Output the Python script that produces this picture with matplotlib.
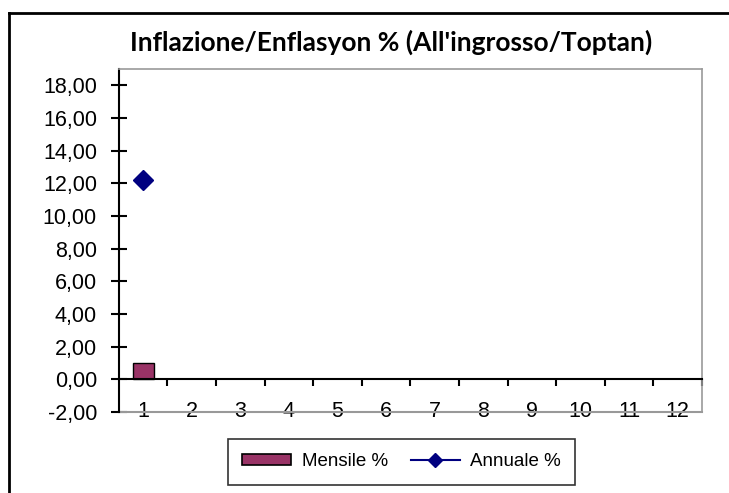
import numpy as np
import matplotlib.pyplot as plt
from matplotlib.patches import Rectangle
from matplotlib.lines import Line2D

plt.rcParams["font.family"] = ["Liberation Sans", "DejaVu Sans"]

months = list(range(1, 13))
mensile = [1.0] + [np.nan] * 11   # only January reported
annuale = [12.2] + [np.nan] * 11
y_ticks = list(range(-2, 20, 2))

bar_color = "#993366"
line_color = "#000080"

fig = plt.figure(figsize=(7.29, 4.93), dpi=100)
ax = fig.add_axes([0.163, 0.164, 0.8, 0.696])

# chart frame: only the left and top edges show in the crop
fig.add_artist(Line2D([0.0123, 0.0123], [0, 0.974], color="black", linewidth=2, transform=fig.transFigure))
fig.add_artist(Line2D([0.0123, 1], [0.974, 0.974], color="black", linewidth=2, transform=fig.transFigure))

ax.bar(months, mensile, width=0.43, color=bar_color, edgecolor="black", linewidth=1)
ax.plot(months, annuale, color=line_color, marker="D", markersize=10, linewidth=1.5)

ax.set_xlim(0.5, 12.5)
ax.set_ylim(-2, 19)
ax.set_yticks(y_ticks)
ax.yaxis.set_major_formatter(plt.FuncFormatter(lambda v, p: ("%.2f" % v).replace(".", ",")))
ax.tick_params(axis="y", direction="inout", length=11.5, width=1.5, labelsize=15.5, pad=10)

# x axis line sits on zero, labels drop below it
ax.spines["bottom"].set_position(("data", 0))
ax.spines["bottom"].set_linewidth(1.5)
ax.set_xticks(months)
ax.set_xticks([m + 0.5 for m in months], minor=True)
ax.tick_params(axis="x", which="major", length=0, labelsize=15.5, pad=15.5)
ax.tick_params(axis="x", which="minor", direction="out", length=5, width=1.5)

ax.spines["left"].set_linewidth(1.5)
for side in ["top", "right"]:
    ax.spines[side].set_color("#999999")
    ax.spines[side].set_linewidth(1.2)
ax.plot([0, 1], [0, 0], transform=ax.transAxes, color="#999999", linewidth=1.5, clip_on=False)

fig.text(0.537, 0.915, "Inflazione/Enflasyon % (All'ingrosso/Toptan)",
         ha="center", va="center", fontsize=19, fontweight="bold", family=["Lato", "DejaVu Sans"])

handles = [
    Rectangle((0, 0), 1, 1, facecolor=bar_color, edgecolor="black", linewidth=1.2),
    Line2D([], [], color=line_color, marker="D", markersize=7, linewidth=1.5),
]
leg = fig.legend(handles, ["Mensile %", "Annuale %"], loc="center", bbox_to_anchor=(0.551, 0.063),
                 ncol=2, fontsize=13.5, frameon=True, fancybox=False, handlelength=2.6,
                 handleheight=0.55, handletextpad=0.55, columnspacing=1.25, borderpad=0.75)
leg.get_frame().set_edgecolor("black")
leg.get_frame().set_linewidth(1.2)

plt.savefig("out.png", dpi=100)
